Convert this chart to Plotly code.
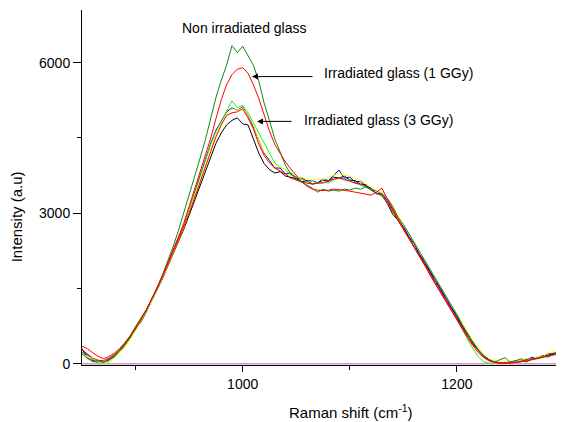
import plotly.graph_objects as go

RAMAN_SHIFT = list(range(850, 1301, 5))

NON_IRRADIATED = [200, 110, 40, 60, 30, 70, 150, 260, 380, 530, 700, 870, 1060, 1280, 1500, 1760, 2030, 2330, 2650, 3000,
                  3340, 3720, 4080, 4450, 4880, 5300, 5650, 5950, 6340, 6200, 6330, 6150, 5950, 5640, 5200, 4850, 4480, 4220, 3950, 3780,
                  3720, 3620, 3560, 3500, 3420, 3480, 3440, 3460, 3440, 3480, 3460, 3500, 3480, 3520, 3480, 3440, 3380, 3300, 3140, 2920,
                  2780, 2600, 2420, 2240, 2080, 1880, 1720, 1520, 1360, 1160, 980, 780, 600, 420, 280, 150, 60, 30, 80, 120,
                  20, 60, 100, 40, 90, 110, 160, 130, 190, 220, 240]

IRR_1GGY = [350, 300, 220, 150, 100, 140, 210, 300, 420, 560, 740, 900, 1080, 1290, 1510, 1750, 2000, 2250, 2520, 2800,
            3130, 3480, 3820, 4150, 4480, 4880, 5260, 5560, 5760, 5870, 5900, 5790, 5560, 5290, 4960, 4640, 4370, 4180, 4020, 3880,
            3750, 3630, 3540, 3480, 3460, 3450, 3460, 3480, 3470, 3460, 3440, 3420, 3400, 3380, 3360, 3420, 3500, 3280, 3100, 2900,
            2700, 2520, 2320, 2140, 1960, 1760, 1580, 1400, 1220, 1040, 860, 680, 520, 360, 220, 120, 60, 30, 10, 20,
            10, 30, 50, 40, 90, 110, 130, 150, 180, 200, 220]

IRR_3GGY_RED = [280, 200, 110, 70, 60, 110, 180, 270, 400, 550, 690, 880, 1060, 1290, 1490, 1730, 1990, 2230, 2470, 2730,
                3000, 3300, 3600, 3920, 4240, 4520, 4760, 4950, 5000, 5020, 5080, 4900, 4680, 4380, 4150, 4000, 3900, 3840, 3780, 3700,
                3660, 3620, 3600, 3580, 3600, 3600, 3640, 3680, 3700, 3680, 3640, 3600, 3580, 3540, 3460, 3400, 3360, 3220, 3040, 2860,
                2680, 2520, 2340, 2160, 1980, 1800, 1620, 1440, 1260, 1080, 900, 720, 540, 380, 250, 140, 70, 30, 20, 10,
                30, 20, 40, 70, 80, 100, 130, 160, 190, 210, 230]

IRR_3GGY_BLACK = [300, 120, 60, 30, 20, 90, 130, 230, 350, 540, 680, 830, 1030, 1240, 1450, 1690, 1940, 2180, 2430, 2680,
                  2960, 3240, 3520, 3820, 4120, 4390, 4600, 4760, 4850, 4900, 4780, 4760, 4480, 4200, 3990, 3870, 3800, 3830, 3740, 3720,
                  3690, 3620, 3650, 3580, 3600, 3660, 3630, 3720, 3700, 3740, 3660, 3650, 3580, 3570, 3460, 3400, 3350, 3200, 2980, 2860,
                  2700, 2540, 2330, 2180, 2000, 1830, 1620, 1500, 1250, 1120, 920, 740, 600, 400, 270, 150, 90, 30, 10, 30,
                  20, 50, 40, 90, 110, 100, 160, 170, 210, 220, 250]

IRR_3GGY_BLUE = [220, 180, 70, 60, 30, 60, 170, 260, 400, 510, 720, 880, 1070, 1280, 1500, 1740, 2000, 2250, 2500, 2770,
                 3080, 3400, 3720, 4050, 4380, 4650, 4850, 5020, 5100, 5050, 5120, 4950, 4720, 4450, 4200, 4050, 3900, 3900, 3780, 3800,
                 3680, 3700, 3640, 3650, 3610, 3680, 3650, 3760, 3860, 3700, 3720, 3620, 3640, 3540, 3500, 3380, 3400, 3240, 3080, 2860,
                 2740, 2540, 2400, 2180, 2040, 1840, 1680, 1460, 1310, 1100, 960, 750, 570, 440, 270, 170, 70, 50, 30, 10,
                 40, 60, 50, 70, 130, 110, 140, 200, 190, 240, 270]

IRR_3GGY_YELLOW = [200, 140, 100, 40, 10, 40, 110, 210, 340, 480, 660, 840, 1040, 1250, 1470, 1710, 1960, 2200, 2460, 2720,
                   3030, 3340, 3650, 3980, 4300, 4580, 4780, 4970, 5080, 5050, 5100, 4960, 4760, 4460, 4220, 4080, 3960, 3920, 3860, 3820,
                   3720, 3720, 3680, 3660, 3680, 3660, 3720, 3760, 3800, 3760, 3740, 3680, 3650, 3600, 3520, 3440, 3420, 3300, 3140, 2940,
                   2760, 2620, 2420, 2240, 2060, 1880, 1700, 1520, 1340, 1160, 980, 800, 620, 460, 320, 190, 100, 60, 40, 30,
                   60, 40, 90, 100, 90, 150, 140, 210, 250, 270, 340]

IRR_3GGY_LIME = [240, 130, 50, 20, 50, 30, 120, 240, 370, 530, 710, 870, 1070, 1270, 1500, 1730, 2000, 2240, 2490, 2760,
                 3060, 3380, 3700, 4030, 4360, 4620, 4830, 5020, 5240, 5100, 5150, 5000, 4800, 4600, 4420, 4200, 4000, 3920, 3860, 3760,
                 3720, 3680, 3620, 3640, 3600, 3620, 3600, 3660, 3700, 3660, 3640, 3600, 3560, 3520, 3460, 3400, 3340, 3220, 3040, 2860,
                 2700, 2520, 2340, 2160, 1980, 1800, 1620, 1440, 1260, 1060, 880, 680, 480, 300, 140, 40, 10, 20, 10, 30,
                 20, 30, 50, 60, 80, 100, 120, 150, 170, 200, 210]

BASELINE = [0, 0]
BASELINE_X = [850, 1300]

X_TICKS = [1000, 1200]
X_MINOR = [900, 1100]
Y_TICKS = [0, 3000, 6000]
Y_MINOR = [1500, 4500]

FONT = "Liberation Sans, Arial, Helvetica, sans-serif"

series = [
    (IRR_3GGY_BLACK, "#000000"),
    (IRR_3GGY_BLUE, "#0000ff"),
    (IRR_3GGY_LIME, "#22ee22"),
    (IRR_3GGY_YELLOW, "#ffff00"),
    (IRR_3GGY_RED, "#ff0000"),
    (NON_IRRADIATED, "#108a10"),
    (IRR_1GGY, "#ff0000"),
]

fig = go.Figure()
fig.add_trace(go.Scatter(x=BASELINE_X, y=BASELINE, mode="lines",
                         line=dict(color="#cc99cc", width=1.5), hoverinfo="skip"))
for ys, col in series:
    fig.add_trace(go.Scatter(x=RAMAN_SHIFT, y=ys, mode="lines",
                             line=dict(color=col, width=1)))

ann = []
ann.append(dict(x=941.7, y=6690, xref="x", yref="y", text="Non irradiated glass",
                showarrow=False, xanchor="left", yanchor="middle",
                font=dict(family=FONT, size=14, color="black")))
ann.append(dict(x=1074.1, y=5802, xref="x", yref="y", text="Irradiated glass (1 GGy)",
                showarrow=False, xanchor="left", yanchor="middle",
                font=dict(family=FONT, size=14, color="black")))
ann.append(dict(x=1055.4, y=4863, xref="x", yref="y", text="Irradiated glass (3 GGy)",
                showarrow=False, xanchor="left", yanchor="middle",
                font=dict(family=FONT, size=14, color="black")))
# arrows
ann.append(dict(x=1008.7, y=5723, ax=1068.5, ay=5723, xref="x", yref="y",
                axref="x", ayref="y", text=" ", showarrow=True,
                arrowhead=2, arrowsize=1.2, arrowwidth=1, arrowcolor="black"))
ann.append(dict(x=1013.4, y=4830, ax=1048.9, ay=4830, xref="x", yref="y",
                axref="x", ayref="y", text=" ", showarrow=True,
                arrowhead=2, arrowsize=1.2, arrowwidth=1, arrowcolor="black"))
# axis titles
ann.append(dict(x=-0.1355, y=0.418, xref="paper", yref="paper", text="Intensity (a.u)",
                showarrow=False, textangle=-90, xanchor="center", yanchor="middle",
                font=dict(family=FONT, size=15, color="black")))
ann.append(dict(x=0.558, y=-0.132, xref="paper", yref="paper",
                text="Raman shift (cm<sup>-1</sup>)",
                showarrow=False, xanchor="center", yanchor="middle",
                font=dict(family=FONT, size=15, color="black")))

# the page body adds an 8px offset; size the figure to fill the 564x422 window
fig.update_layout(
    width=556, height=414,
    margin=dict(l=74, r=0, t=2, b=57),
    paper_bgcolor="white", plot_bgcolor="white",
    showlegend=False,
    annotations=ann,
    font=dict(family=FONT, size=14, color="black"),
)
fig.update_xaxes(range=[850, 1300], showgrid=False, zeroline=False,
                 showline=True, linecolor="black", linewidth=1,
                 tickmode="array", tickvals=X_TICKS, ticks="outside", ticklen=6,
                 tickcolor="black", tickfont=dict(family=FONT, size=14),
                 minor=dict(tickmode="array", tickvals=X_MINOR, ticks="outside",
                            ticklen=4, tickcolor="black"))
fig.update_yaxes(range=[-25, 7050], showgrid=False, zeroline=False,
                 showline=True, linecolor="black", linewidth=1,
                 tickmode="array", tickvals=Y_TICKS, ticks="outside", ticklen=8,
                 tickcolor="black", tickfont=dict(family=FONT, size=14),
                 minor=dict(tickmode="array", tickvals=Y_MINOR, ticks="outside",
                            ticklen=4, tickcolor="black"))

fig.write_html("out.html")
